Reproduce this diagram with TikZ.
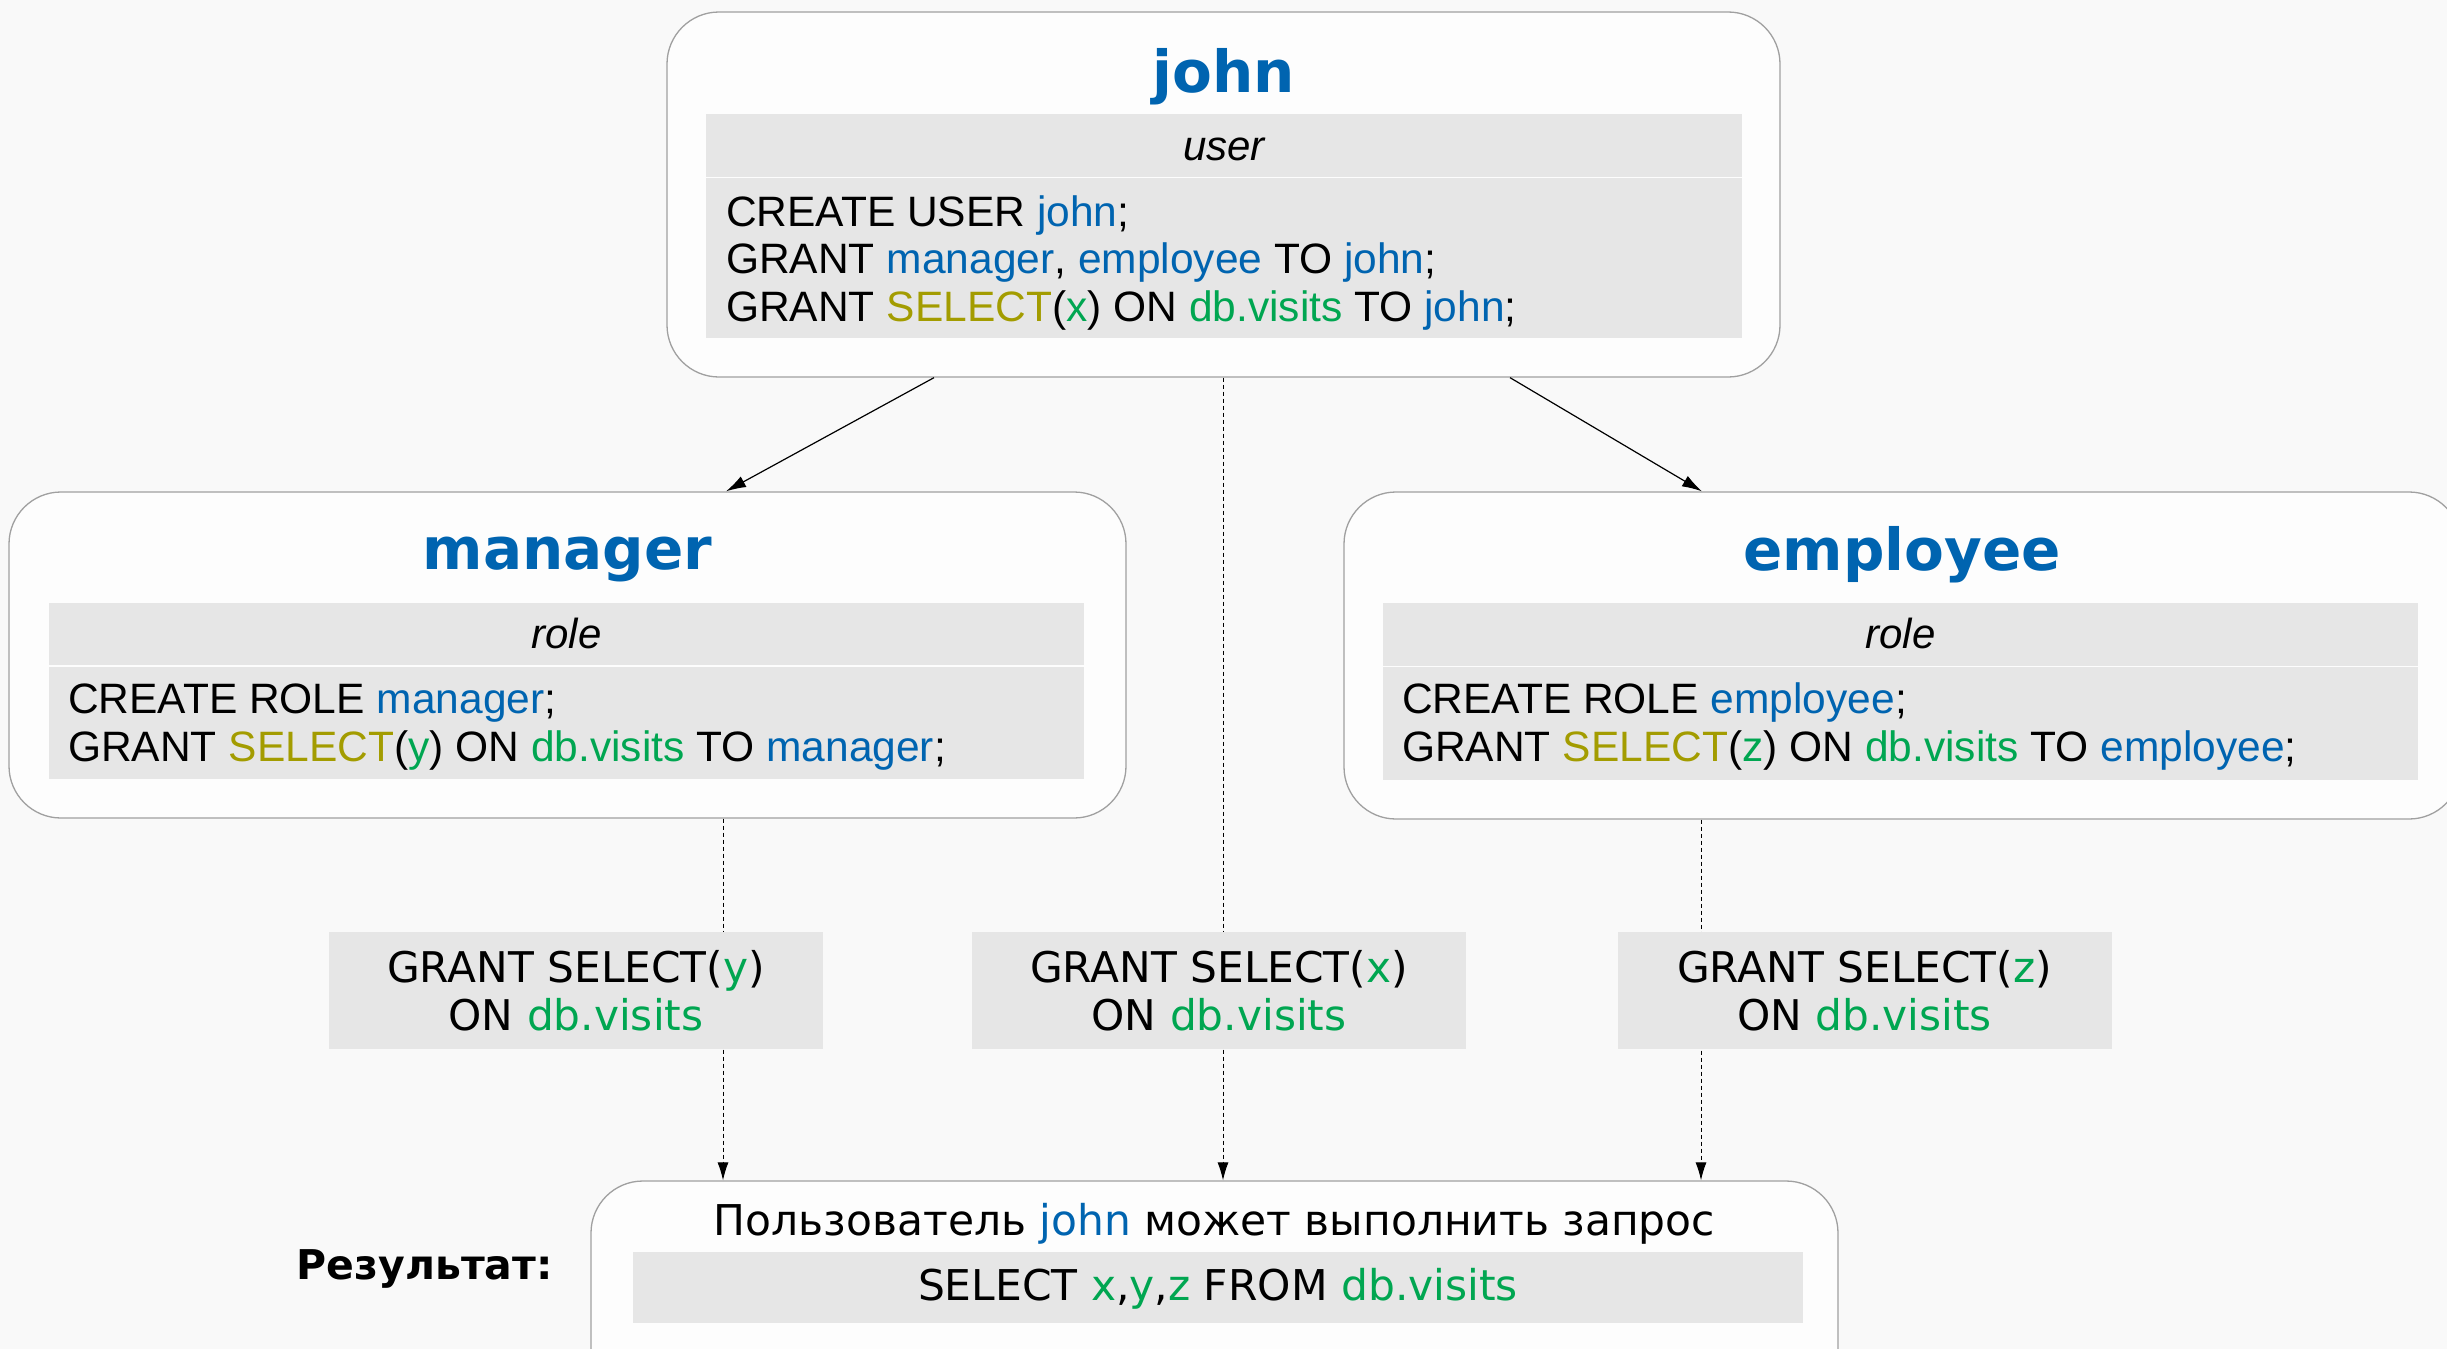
\documentclass[tikz,border=0pt]{standalone}
\usepackage{fontspec}
\setmainfont{Liberation Sans}
\newfontfamily\dejavu{DejaVu Sans}
\usetikzlibrary{arrows.meta}

\definecolor{nameblue}{HTML}{0064B0}
\definecolor{kwolive}{HTML}{A39C00}
\definecolor{objgreen}{HTML}{00A651}
\definecolor{bandgray}{HTML}{E6E6E6}
\definecolor{edgegray}{HTML}{A0A0A0}
\definecolor{canvas}{HTML}{F9F9F9}
\definecolor{cardfill}{HTML}{FDFDFD}

% colour helpers for SQL fragments
\newcommand{\nm}[1]{\textcolor{nameblue}{#1}}
\newcommand{\kw}[1]{\textcolor{kwolive}{#1}}
\newcommand{\ob}[1]{\textcolor{objgreen}{#1}}

\begin{document}
\begin{tikzpicture}[x=1pt,y=-1pt,
  card/.style={draw=edgegray, line width=1.3pt, fill=cardfill, rounded corners=52pt, inner sep=0pt},
  strip/.style={fill=bandgray, inner sep=0pt},
  heading/.style={font=\dejavu\bfseries\fontsize{58}{60}\selectfont, text=nameblue, anchor=base, inner sep=0pt},
  kindlabel/.style={font=\itshape\fontsize{42}{48}\selectfont, anchor=base, inner sep=0pt},
  sqlline/.style={font=\fontsize{42.5}{48}\selectfont, anchor=base west, inner sep=0pt},
  grantbox/.style={fill=bandgray, minimum width=494pt, minimum height=117pt, inner sep=0pt,
                   font=\dejavu\fontsize{42.3}{48}\selectfont, align=center},
  link/.style={line width=1.2pt, -{Latex[length=20pt,width=12pt]}},
  weak/.style={line width=1pt, dash pattern=on 4pt off 3pt, -{Latex[length=18pt,width=11pt]}},
]
\useasboundingbox (0,0) rectangle (2447,1349);
\fill[canvas] (0,0) rectangle (2447,1349);

\begin{scope}
\clip (0,0) rectangle (2447,1349);

% user john
\node[card, minimum width=1113pt, minimum height=365pt] (john) at (1223.5,194.5) {};
\node[strip, minimum width=1036pt, minimum height=63pt] (johnkindband) at (1224,145.5) {};
\node[strip, minimum width=1036pt, minimum height=160pt] (johncodeband) at (1224,258) {};
\node[heading] (johntitle) at (1223.5,92) {john};
\node[kindlabel] (johnkind) at (1224,160) {user};
\node[sqlline] (johnl1) at (726,226.5) {CREATE USER \nm{john};};
\node[sqlline] (johnl2) at (726,273.5) {GRANT \nm{manager}, \nm{employee} TO \nm{john};};
\node[sqlline] (johnl3) at (726,321.5) {GRANT \kw{SELECT}(\ob{x}) ON \ob{db.visits} TO \nm{john};};

% role manager
\node[card, minimum width=1117pt, minimum height=326pt] (mgr) at (567.5,655) {};
\node[strip, minimum width=1035pt, minimum height=62pt] (mgrkindband) at (566.5,634) {};
\node[strip, minimum width=1035pt, minimum height=112pt] (mgrcodeband) at (566.5,723) {};
\node[heading] (mgrtitle) at (567.5,569) {manager};
\node[kindlabel] (mgrkind) at (566.5,648) {role};
\node[sqlline] (mgrl1) at (68,713) {CREATE ROLE \nm{manager};};
\node[sqlline] (mgrl2) at (68,761) {GRANT \kw{SELECT}(\ob{y}) ON \ob{db.visits} TO \nm{manager};};

% role employee
\node[card, minimum width=1117pt, minimum height=327pt] (emp) at (1902.5,655.5) {};
\node[strip, minimum width=1035pt, minimum height=63pt] (empkindband) at (1900.5,634.5) {};
\node[strip, minimum width=1035pt, minimum height=113pt] (empcodeband) at (1900.5,723.5) {};
\node[heading] (emptitle) at (1902,570) {employee};
\node[kindlabel] (empkind) at (1900.5,648) {role};
\node[sqlline] (empl1) at (1402,713) {CREATE ROLE \nm{employee};};
\node[sqlline] (empl2) at (1402,761) {GRANT \kw{SELECT}(\ob{z}) ON \ob{db.visits} TO \nm{employee};};

% result
\node[card, minimum width=1247pt, minimum height=219pt] (res) at (1214.5,1290.5) {};
\node[strip, minimum width=1170pt, minimum height=71pt] (resband) at (1218,1287.5) {};
\node[font=\dejavu\fontsize{42.4}{48}\selectfont, anchor=base, inner sep=0pt] (resl1) at (1214.5,1235)
  {Пользователь \nm{john} может выполнить запрос};
\node[font=\dejavu\fontsize{42.4}{48}\selectfont, anchor=base, inner sep=0pt] (resl2) at (1218,1300)
  {SELECT \ob{x},\ob{y},\ob{z} FROM \ob{db.visits}};
\node[font=\dejavu\bfseries\fontsize{41}{48}\selectfont, anchor=base east, inner sep=0pt] (reslabel) at (553,1279)
  {Результат:};

% membership links
\draw[link] ([xshift=-289.5pt]john.south) -- ([xshift=158.5pt]mgr.north);
\draw[link] ([xshift=286.5pt]john.south) -- ([xshift=-200.5pt]emp.north);

% privilege flows
\draw[weak] ([xshift=155.5pt]mgr.south) -- ([xshift=-491.5pt]res.north);
\draw[weak] ([xshift=-0.5pt]john.south) -- ([xshift=8.5pt]res.north);
\draw[weak] ([xshift=-201.5pt]emp.south) -- ([xshift=486.5pt]res.north);

% privilege labels
\node[grantbox] (g1) at (576,990.5) {GRANT SELECT(\ob{y})\\ON \ob{db.visits}};
\node[grantbox] (g2) at (1219,990.5) {GRANT SELECT(\ob{x})\\ON \ob{db.visits}};
\node[grantbox] (g3) at (1864.5,990.5) {GRANT SELECT(\ob{z})\\ON \ob{db.visits}};
\end{scope}
\end{tikzpicture}
\end{document}
